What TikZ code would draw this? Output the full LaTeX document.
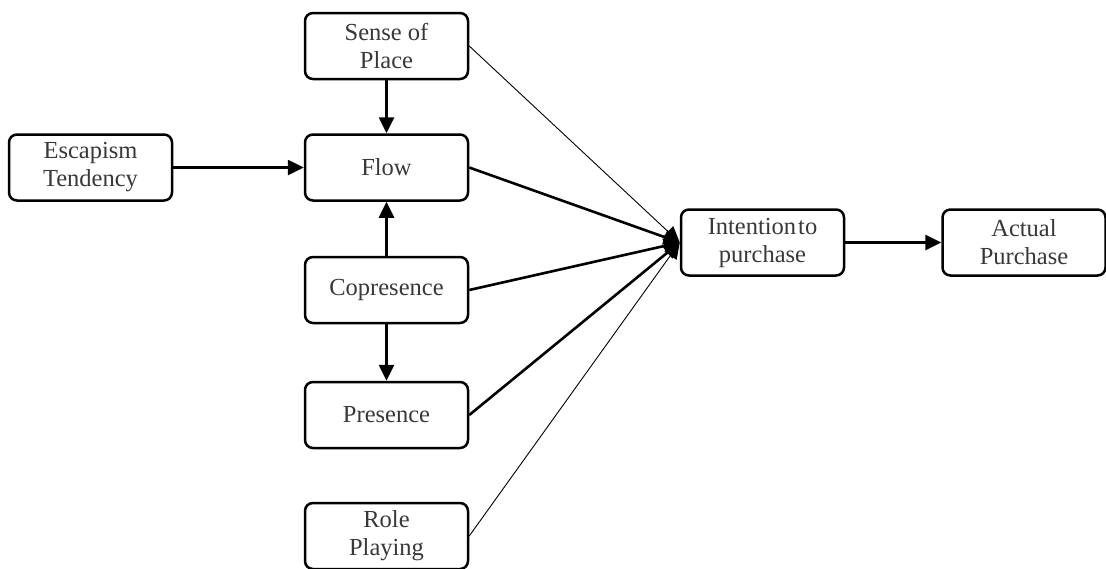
\documentclass[tikz,border=0pt]{standalone}
\usepackage{fontspec}
\setmainfont{Liberation Serif}
\usetikzlibrary{arrows.meta}
\begin{document}
\begin{tikzpicture}[x=1pt,y=-1pt,
  box/.style={draw, line width=2.5pt, rounded corners=8pt, minimum width=163pt,
    minimum height=66pt, align=center, inner sep=0pt, text=black!78,
    font=\fontsize{24.5}{28}\selectfont},
  link/.style={line width=2.6pt, -{Triangle[length=16pt,width=15pt]}},
  faint/.style={line width=0.9pt, -{Triangle[length=16pt,width=15pt]}}]
\useasboundingbox (0,0) rectangle (1106,568);
% constructs
\node[box] (sop)  at (386.5,46)    {Sense of\\Place};
\node[box] (flow) at (386.5,167.5) {Flow};
\node[box] (esc)  at (90.5,167.5)  {Escapism\\Tendency};
\node[box] (cop)  at (386.5,290)   {Copresence};
\node[box] (pres) at (386.5,415)   {Presence};
\node[box] (role) at (386.5,536)   {Role\\Playing};
\node[box] (int)  at (762.5,242.5) {Intention\hspace{2pt}to\\purchase};
\node[box] (act)  at (1024,242.5)  {Actual\\Purchase};
% paths
\draw[link] (sop.south) -- (flow.north);
\draw[link] (esc.east) -- (flow.west);
\draw[link] (cop.north) -- (flow.south);
\draw[link] (cop.south) -- (pres.north);
\draw[link] (int.east) -- (act.west);
\draw[faint] (sop.east) -- (int.west);
\draw[link] (flow.east) -- (int.west);
\draw[link] (cop.east) -- (int.west);
\draw[link] (pres.east) -- (int.west);
\draw[faint] (role.east) -- (int.west);
\end{tikzpicture}
\end{document}
